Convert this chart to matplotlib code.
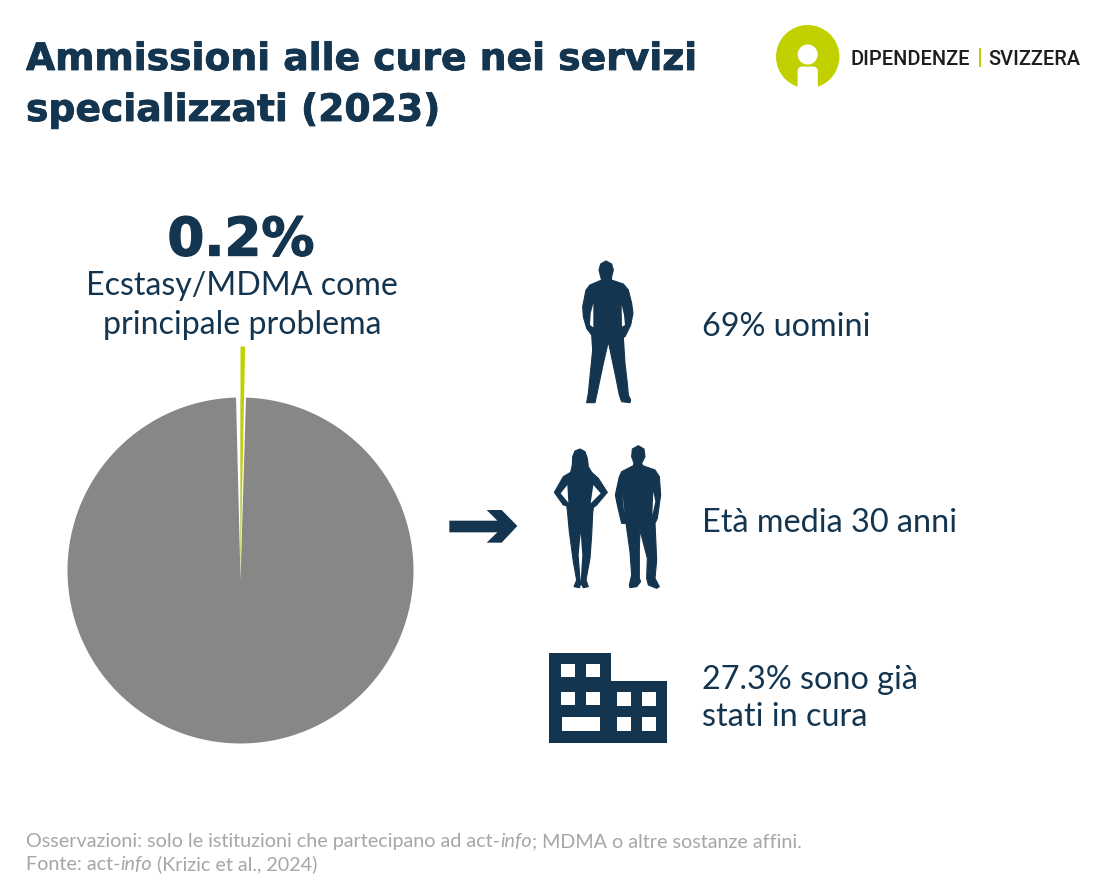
import matplotlib
matplotlib.use("Agg")
import matplotlib.pyplot as plt
import matplotlib.patheffects as pe
from matplotlib.patches import Polygon, Circle, Rectangle, FancyBboxPatch

W, H = 1096, 892
NAVY = "#14354f"
GREY = "#878785"
LIME = "#c1d100"
NOTE = "#a6a6a6"

title_lines = ["Ammissioni alle cure nei servizi", "specializzati (2023)"]
headline = "0.2%"
headline_sub = ["Ecstasy/MDMA come", "principale problema"]
facts = [["69% uomini"], ["Età media 30 anni"], ["27.3% sono già", "stati in cura"]]
note_1 = [("Osservazioni: solo le istituzioni che partecipano ad act-", "normal"), ("info", "italic"),
          ("; MDMA o altre sostanze affini.", "normal")]
note_2 = [("Fonte: act-", "normal"), ("info", "italic"), (" (Krizic et al., 2024)", "normal")]

# shares as drawn, clockwise from 12 o'clock (the slice is drawn a bit wider than 0.2%)
slice_share = 0.33
gap_right = 0.48
gap_left = 0.39

fig = plt.figure(figsize=(W / 100, H / 100), dpi=100)
ax = fig.add_axes([0, 0, 1, 1])


def px(points, ox=0, oy=0, scale=1 / 3):
    # picture coords (y down) to axes coords
    return [(ox + x * scale, H - (oy + y * scale)) for x, y in points]


def fs(pixels):
    return pixels * 0.72


ax.pie([100], colors=[GREY], center=(240.5, H - 570.5), radius=173, frame=True)
ax.pie([gap_right, 100 - gap_right - gap_left, gap_left], colors=["white", "none", "white"],
       startangle=90, counterclock=False, center=(240.5, H - 580), radius=183, frame=True)
ax.pie([slice_share, 100 - slice_share], colors=[LIME, "none"],
       startangle=90, counterclock=False, center=(240.5, H - 570.5), radius=224, frame=True)

ax.set_xlim(0, W)
ax.set_ylim(0, H)
ax.set_aspect("equal")
ax.axis("off")

# arrow
arrow = [(28, 62), (172, 62), (140, 30), (185, 30), (232, 78), (185, 128), (140, 128), (172, 97), (28, 97)]
ax.add_patch(Polygon(px(arrow, 440, 500), color=NAVY, lw=0))

# man
man = [(198, 33), (215, 42), (220, 60), (215, 80), (214, 90), (250, 102), (265, 120), (275, 160), (279, 190),
       (272, 225), (255, 260), (250, 262), (255, 340), (262, 400), (265, 435), (272, 450), (270, 458), (245, 455),
       (238, 435), (225, 370), (205, 275), (190, 340), (170, 435), (165, 458), (140, 458), (145, 430), (150, 380),
       (158, 300), (155, 255), (140, 235), (130, 200), (128, 170), (138, 120), (150, 105), (185, 90), (182, 80),
       (177, 60), (182, 42)]
ax.add_patch(Polygon(px(man, 540, 250), fc=NAVY, ec=NAVY, lw=0.8, joinstyle="round"))
for slit in ([(160, 160), (152, 190), (150, 225), (160, 232)], [(245, 165), (252, 195), (255, 225), (246, 230)]):
    ax.add_patch(Polygon(px(slit, 540, 250), color="white", lw=0))

# couple
woman = [(120, 42), (135, 50), (142, 70), (145, 95), (155, 112), (175, 130), (202, 172), (170, 210), (160, 218),
         (158, 235), (155, 300), (150, 370), (138, 435), (145, 455), (130, 458), (123, 445), (118, 458), (102, 455),
         (110, 435), (100, 380), (88, 290), (82, 225), (80, 212), (70, 210), (43, 172), (70, 125), (92, 112),
         (97, 90), (98, 65), (105, 48)]
man2 = [(295, 32), (312, 42), (315, 65), (305, 85), (308, 92), (345, 105), (358, 125), (362, 180), (352, 250),
        (345, 265), (348, 330), (350, 375), (345, 430), (358, 455), (350, 460), (325, 450), (320, 430), (322, 370),
        (300, 285), (298, 340), (298, 430), (302, 440), (290, 455), (270, 458), (268, 450), (275, 420), (270, 350),
        (258, 265), (245, 265), (232, 210), (226, 180), (238, 125), (245, 110), (280, 92), (282, 85), (275, 65),
        (277, 42)]
for shape in (woman, man2):
    ax.add_patch(Polygon(px(shape, 540, 435), fc=NAVY, ec=NAVY, lw=0.8, joinstyle="round"))
for hole in ([(82, 150), (62, 175), (85, 203)], [(160, 150), (182, 175), (152, 205)],
             [(247, 175), (250, 210), (254, 238)], [(340, 170), (346, 200), (337, 240)],
             [(122, 295), (116, 360), (122, 440), (127, 360)]):
    ax.add_patch(Polygon(px(hole, 540, 435), color="white", lw=0))

# building
building = [(28, 40), (212, 40), (212, 122), (380, 122), (380, 310), (28, 310)]
ax.add_patch(Polygon(px(building, 540, 640), color=NAVY, lw=0))
windows = [(62, 72, 104, 112), (137, 72, 179, 112), (62, 155, 104, 195), (137, 155, 179, 195), (66, 232, 179, 272),
           (230, 157, 272, 197), (305, 157, 347, 197), (230, 232, 272, 272), (305, 232, 347, 272)]
for x0, y0, x1, y1 in windows:
    ax.add_patch(Polygon(px([(x0, y0), (x1, y0), (x1, y1), (x0, y1)], 540, 640), color="white", lw=0))

# logo
ax.add_patch(Circle((807.7, H - 56.7), 31.7, color=LIME, lw=0))
ax.add_patch(Circle((807.7, H - 54.5), 10, color="white", lw=0))
ax.add_patch(FancyBboxPatch((799, H - 92), 17.4, 24, boxstyle="round,pad=0,rounding_size=3", color="white", lw=2))
ax.add_patch(Rectangle((978.6, H - 67), 2.6, 19, color=LIME, lw=0))
ax.text(851, H - 65, "DIPENDENZE", family="Roboto", weight="medium", fontsize=fs(20), color="#1d1d1b", va="baseline")
ax.text(988, H - 65, "SVIZZERA", family="Roboto", weight="medium", fontsize=fs(20), color="#1d1d1b", va="baseline")

# texts, DejaVu bold thickened a little to get near the heavy title face
thick = [pe.withStroke(linewidth=0.6, foreground=NAVY)]
ax.text(26, H - 70, title_lines[0], family="DejaVu Sans", weight="bold", fontsize=fs(37.7), color=NAVY,
        va="baseline", path_effects=thick)
ax.text(26, H - 121, title_lines[1], family="DejaVu Sans", weight="bold", fontsize=fs(37.7), color=NAVY,
        va="baseline", path_effects=thick)
ax.text(241, H - 255.5, headline, family="DejaVu Sans", weight="bold", fontsize=fs(53), color=NAVY, ha="center",
        va="baseline", path_effects=[pe.withStroke(linewidth=1, foreground=NAVY)])
for line, y in zip(headline_sub, (295, 334)):
    ax.text(242, H - y, line, family="Lato", fontsize=fs(32.2), color=NAVY, ha="center", va="baseline")
for lines, ys in zip(facts, ((336,), (532,), (689, 726))):
    for line, y in zip(lines, ys):
        ax.text(702, H - y, line, family="Lato", fontsize=fs(32.4), color=NAVY, va="baseline")


def note_line(runs, y):
    x = 26
    renderer = fig.canvas.get_renderer()
    for s, style in runs:
        t = ax.text(x, H - y, s.replace(" ", "\u00a0"), family="Lato", style=style,
                    fontsize=fs(19.75), color=NOTE, va="baseline")
        x = t.get_window_extent(renderer).x1


note_line(note_1, 847)
note_line(note_2, 870)

fig.savefig("out.png", dpi=100)
